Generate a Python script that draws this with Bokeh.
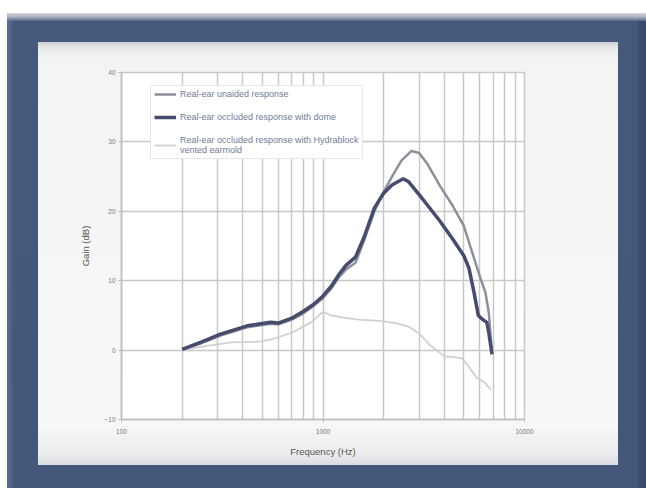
from bokeh.plotting import figure
from bokeh.models import FixedTicker, Legend, LegendItem, Range1d
from bokeh.embed import file_html
from bokeh.resources import INLINE

# ---- data ----
freq_unaided = [200, 250, 310, 420, 550, 600, 700, 800, 900, 1000, 1100, 1200, 1300, 1450,
                1600, 1800, 2000, 2200, 2450, 2750, 3000, 3300, 3800, 4400, 5000, 5400,
                5800, 6100, 6400, 6650, 6900]
gain_unaided = [0.0, 1.0, 2.1, 3.3, 3.8, 3.7, 4.4, 5.3, 6.4, 7.5, 8.9, 10.5, 11.6, 12.6,
                15.8, 20.0, 22.8, 25.0, 27.3, 28.7, 28.4, 26.8, 23.7, 20.8, 17.9, 14.8,
                12.0, 10.0, 8.3, 5.4, -0.6]

freq_dome = [200, 250, 310, 420, 550, 600, 700, 800, 900, 1000, 1100, 1200, 1300, 1450,
             1600, 1800, 2000, 2200, 2500, 2650, 3000, 3400, 3800, 4400, 5000, 5300,
             5600, 5900, 6200, 6500, 6650, 6900]
gain_dome = [0.1, 1.2, 2.3, 3.5, 4.0, 3.9, 4.6, 5.6, 6.6, 7.8, 9.2, 10.9, 12.2, 13.4,
             16.3, 20.5, 22.6, 23.8, 24.7, 24.3, 22.4, 20.4, 18.6, 16.0, 13.6, 11.8,
             8.5, 5.0, 4.4, 4.0, 2.5, -0.6]

freq_earmold = [200, 250, 350, 470, 550, 700, 870, 1000, 1100, 1250, 1500, 1900, 2300,
                2700, 3000, 3400, 4000, 4500, 4900, 5200, 5800, 6300, 6800]
gain_earmold = [0.0, 0.5, 1.1, 1.2, 1.5, 2.5, 4.0, 5.5, 5.0, 4.7, 4.4, 4.2, 3.9,
                3.3, 2.4, 0.7, -0.9, -1.0, -1.2, -2.1, -4.0, -4.6, -5.7]

x_major_ticks = [100, 1000, 10000]
x_minor_ticks = [200, 300, 400, 500, 600, 700, 800, 900,
                 2000, 3000, 4000, 5000, 6000, 7000, 8000, 9000]
y_ticks = [-10, 0, 10, 20, 30, 40]

legend_labels = ["Real-ear unaided response",
                 "Real-ear occluded response with dome",
                 "Real-ear occluded response with Hydrablock\nvented earmold"]

# ---- figure ----
p = figure(width=646, height=488, x_axis_type="log",
           x_range=Range1d(100, 10000), y_range=Range1d(-10, 40),
           output_backend="svg", toolbar_location=None,
           min_border_left=121, min_border_right=122,
           min_border_top=72, min_border_bottom=69)
p.border_fill_color = None
p.border_fill_alpha = 0
p.background_fill_color = "white"
p.outline_line_color = "#c8c8c8"
p.outline_line_width = 1.5

# photo-frame look, painted behind the (transparent) canvas border
p.styles = {
    "background": ", ".join([
        "linear-gradient(#d3d5da, #a9b1c0 4px, #55688a) 7px 13px / 639px 8px no-repeat",
        "linear-gradient(to bottom, #cfd1d6 0px, #e6e7ea 6px, #f3f3f4 16px, "
        "#f8f8f8 380px, #ececee 412px, #dcdde1 423px) 38px 42px / 580px 423px no-repeat",
        "linear-gradient(to right, #eef0f2, #f8f8f8 10px, #f8f8f8 570px, #e9eaec 580px) "
        "38px 60px / 580px 380px no-repeat",
        "linear-gradient(to right, #5b6f91, #485c7e) 7px 13px / 6px 475px no-repeat",
        "linear-gradient(to right, #3e5172, #35476a) 638px 13px / 8px 475px no-repeat",
        "linear-gradient(#455a7b, #42577a) 7px 13px / 639px 475px no-repeat",
        "white",
    ])
}

# ---- lines ----
r_unaided = p.line(freq_unaided, gain_unaided, line_color="#8c909a", line_width=2.5)
r_earmold = p.line(freq_earmold, gain_earmold, line_color="#d0d0d0", line_width=1.8)
r_dome = p.line(freq_dome, gain_dome, line_color="#454c6e", line_width=3.5)

# ---- axes & grid ----
p.xaxis.ticker = FixedTicker(ticks=x_major_ticks, minor_ticks=x_minor_ticks)
p.yaxis.ticker = FixedTicker(ticks=y_ticks)
p.xaxis.major_label_overrides = {100: "100", 1000: "1000", 10000: "10000"}
p.xaxis.axis_label = "Frequency (Hz)"
p.yaxis.axis_label = "Gain (dB)"

for ax in (p.xaxis, p.yaxis):
    ax.axis_line_color = "#bdbdbd"
    ax.axis_line_width = 1.5
    ax.major_tick_line_color = "#bdbdbd"
    ax.major_tick_out = 3
    ax.major_tick_in = 0
    ax.minor_tick_line_color = None
    ax.major_label_text_font = "Liberation Sans"
    ax.major_label_text_font_size = "6.5px"
    ax.major_label_text_color = "#777777"
    ax.axis_label_text_font = "Liberation Sans"
    ax.axis_label_text_font_size = "9.5px"
    ax.axis_label_text_font_style = "normal"
    ax.axis_label_text_color = "#555555"

p.xaxis.major_label_standoff = 5
p.yaxis.major_label_standoff = 3
p.xaxis.axis_label_standoff = 9
p.yaxis.axis_label_standoff = 10

p.xgrid.grid_line_color = "#c8c8c8"
p.xgrid.grid_line_width = 1.5
p.xgrid.minor_grid_line_color = "#c8c8c8"
p.xgrid.minor_grid_line_width = 1.5
p.ygrid.grid_line_color = "#c8c8c8"
p.ygrid.grid_line_width = 1.5

# ---- legend ----
legend = Legend(items=[LegendItem(label=legend_labels[0], renderers=[r_unaided]),
                       LegendItem(label=legend_labels[1], renderers=[r_dome]),
                       LegendItem(label=legend_labels[2], renderers=[r_earmold])],
                location=(29, 260))
legend.label_text_font = "Liberation Sans"
legend.label_text_font_size = "9px"
legend.label_text_color = "#6f7c99"
legend.glyph_width = 22
legend.glyph_height = 10
legend.label_height = 10
legend.label_standoff = 4
legend.spacing = 13
legend.padding = 3
legend.margin = 0
legend.border_line_color = "#cfcfcf"
legend.border_line_width = 1
legend.background_fill_color = "white"
legend.background_fill_alpha = 1.0
p.add_layout(legend, "center")

open("out.html", "w").write(file_html(p, INLINE))
